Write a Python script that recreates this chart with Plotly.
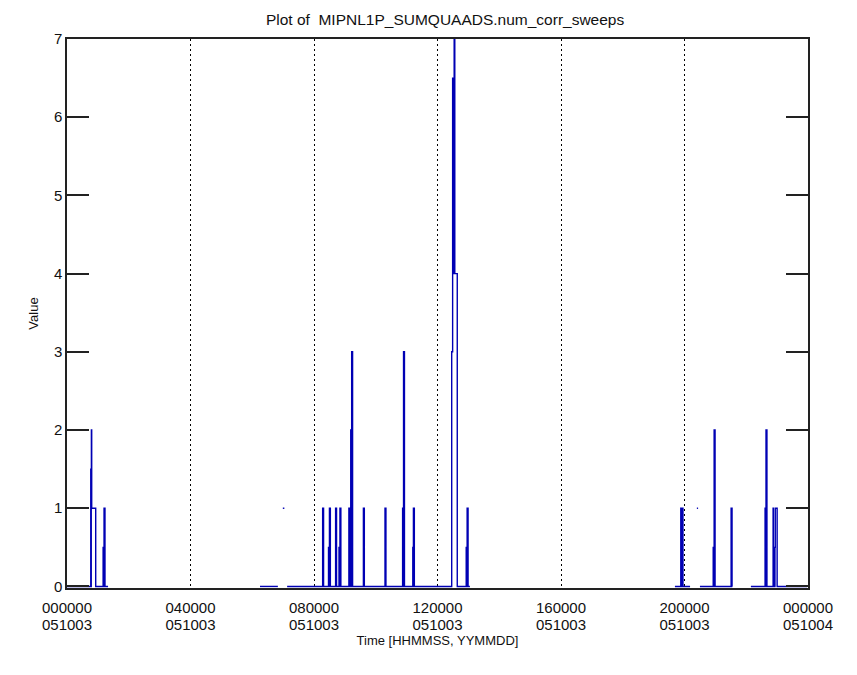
import plotly.graph_objects as go

# Data: time in hours since 000000 051003, value = num_corr_sweeps
# Each segment is a contiguous run of samples; gaps between segments have no data.
seg_a_t = [0.00, 0.77, 0.78, 0.785, 0.79, 0.80, 0.93, 0.96, 1.17, 1.18, 1.19, 1.20, 1.23, 1.33]
seg_a_v = [0, 1.5, 0, 1.5, 2, 1, 0, 0, 0.5, 0, 0.5, 1, 0, 0]

seg_b_t = [6.25, 6.83]
seg_b_v = [0, 0]

seg_c_t = [6.99, 7.04]
seg_c_v = [1, 1]

seg_d_t = [7.13, 8.28, 8.31, 8.47, 8.48, 8.49, 8.50, 8.53, 8.70, 8.73,
           8.81, 8.82, 8.83, 8.84, 8.87, 9.13, 9.16, 9.19, 9.20, 9.21, 9.22, 9.25,
           9.60, 9.63, 10.30, 10.33, 10.87, 10.88, 10.89, 10.90, 10.93,
           11.20, 11.21, 11.22, 11.25,
           12.46, 12.49, 12.51, 12.52, 12.54, 12.56, 12.64,
           12.93, 12.94, 12.96, 12.99, 13.05]
seg_d_v = [0, 1, 0, 0.5, 0, 0.5, 1, 0, 1, 0,
           0.5, 0, 0.5, 1, 0, 1, 0, 2, 0, 2, 3, 0,
           1, 0, 1, 0, 1, 0, 1, 3, 0,
           0.5, 0, 1, 0,
           3, 6.5, 4, 6.5, 7, 4, 0,
           0.5, 0, 1, 0, 0]

seg_e_t = [19.69, 19.88, 19.89, 19.90, 19.91, 19.92, 19.95, 20.18]
seg_e_v = [0, 1, 0, 1, 0, 1, 0, 0]

seg_f_t = [20.40, 20.44]
seg_f_v = [1, 1]

seg_g_t = [20.50, 20.93, 20.94, 20.95, 20.96, 20.99, 21.51, 21.54, 21.55]
seg_g_v = [0, 0.5, 0, 0.5, 2, 0, 1, 0, 0]

seg_h_t = [22.15, 22.61, 22.62, 22.63, 22.64, 22.67, 22.87, 22.88, 22.89, 22.90,
           22.91, 22.92, 22.93, 22.94, 23.00, 23.97]
seg_h_v = [0, 1, 0, 1, 2, 0, 1, 0, 0.5, 0,
           0.5, 0, 0.5, 1, 0, 0]

segments = [(seg_a_t, seg_a_v), (seg_b_t, seg_b_v), (seg_c_t, seg_c_v), (seg_d_t, seg_d_v),
            (seg_e_t, seg_e_v), (seg_f_t, seg_f_v), (seg_g_t, seg_g_v), (seg_h_t, seg_h_v)]

tick_hours = [0, 4, 8, 12, 16, 20, 24]
tick_times = ["000000", "040000", "080000", "120000", "160000", "200000", "000000"]
tick_dates = ["051003", "051003", "051003", "051003", "051003", "051003", "051004"]
y_ticks = [0, 1, 2, 3, 4, 5, 6, 7]

xs, ys = [], []
for t, v in segments:
    xs.extend(t + [None])
    ys.extend(v + [None])

fig = go.Figure()
fig.add_trace(go.Scatter(x=xs, y=ys, mode="lines", line=dict(color="#0000B4", width=1.4, shape="hv"),
                         connectgaps=False, showlegend=False, hoverinfo="skip"))
# carrier trace for the second (date) row of x tick labels
fig.add_trace(go.Scatter(x=tick_hours, y=[None] * len(tick_hours), xaxis="x2", mode="lines",
                         showlegend=False, hoverinfo="skip"))

font = "Liberation Sans, Arial, sans-serif"
# note: the page body has an 8px margin, margins below compensate for it
fig.update_layout(
    width=857, height=675,
    paper_bgcolor="white", plot_bgcolor="white",
    margin=dict(l=59, r=57, t=31, b=95),
    title=dict(text="Plot of  MIPNL1P_SUMQUAADS.num_corr_sweeps", x=0.51, xanchor="center",
               y=0.983, yanchor="middle", font=dict(family=font, size=15.5, color="#111")),
    font=dict(family=font, size=14, color="#111"),
    xaxis=dict(range=[0, 24], tickvals=tick_hours, ticktext=tick_times, ticks="",
               showgrid=True, gridcolor="black", gridwidth=1.2, griddash="2px,3px",
               showline=True, linecolor="#222", linewidth=1.5, mirror=True, zeroline=False,
               tickfont=dict(family=font, size=15), ticklabelstandoff=5),
    xaxis2=dict(range=[0, 24], overlaying="x", anchor="y", side="bottom",
                tickvals=tick_hours, ticktext=tick_dates, ticks="", showgrid=False,
                showline=False, zeroline=False, tickfont=dict(family=font, size=15),
                ticklabelstandoff=26,
                title=dict(text="Time [HHMMSS, YYMMDD]", font=dict(family=font, size=13), standoff=3)),
    yaxis=dict(range=[-0.02, 7], tickvals=y_ticks, ticks="inside", ticklen=22,
               tickcolor="#222", tickwidth=1.5, showgrid=False, zeroline=False,
               showline=True, linecolor="#222", linewidth=1.5, mirror="ticks",
               tickfont=dict(family=font, size=15),
               title=dict(text="Value", font=dict(family=font, size=13), standoff=12)),
)

fig.write_html("out.html")
